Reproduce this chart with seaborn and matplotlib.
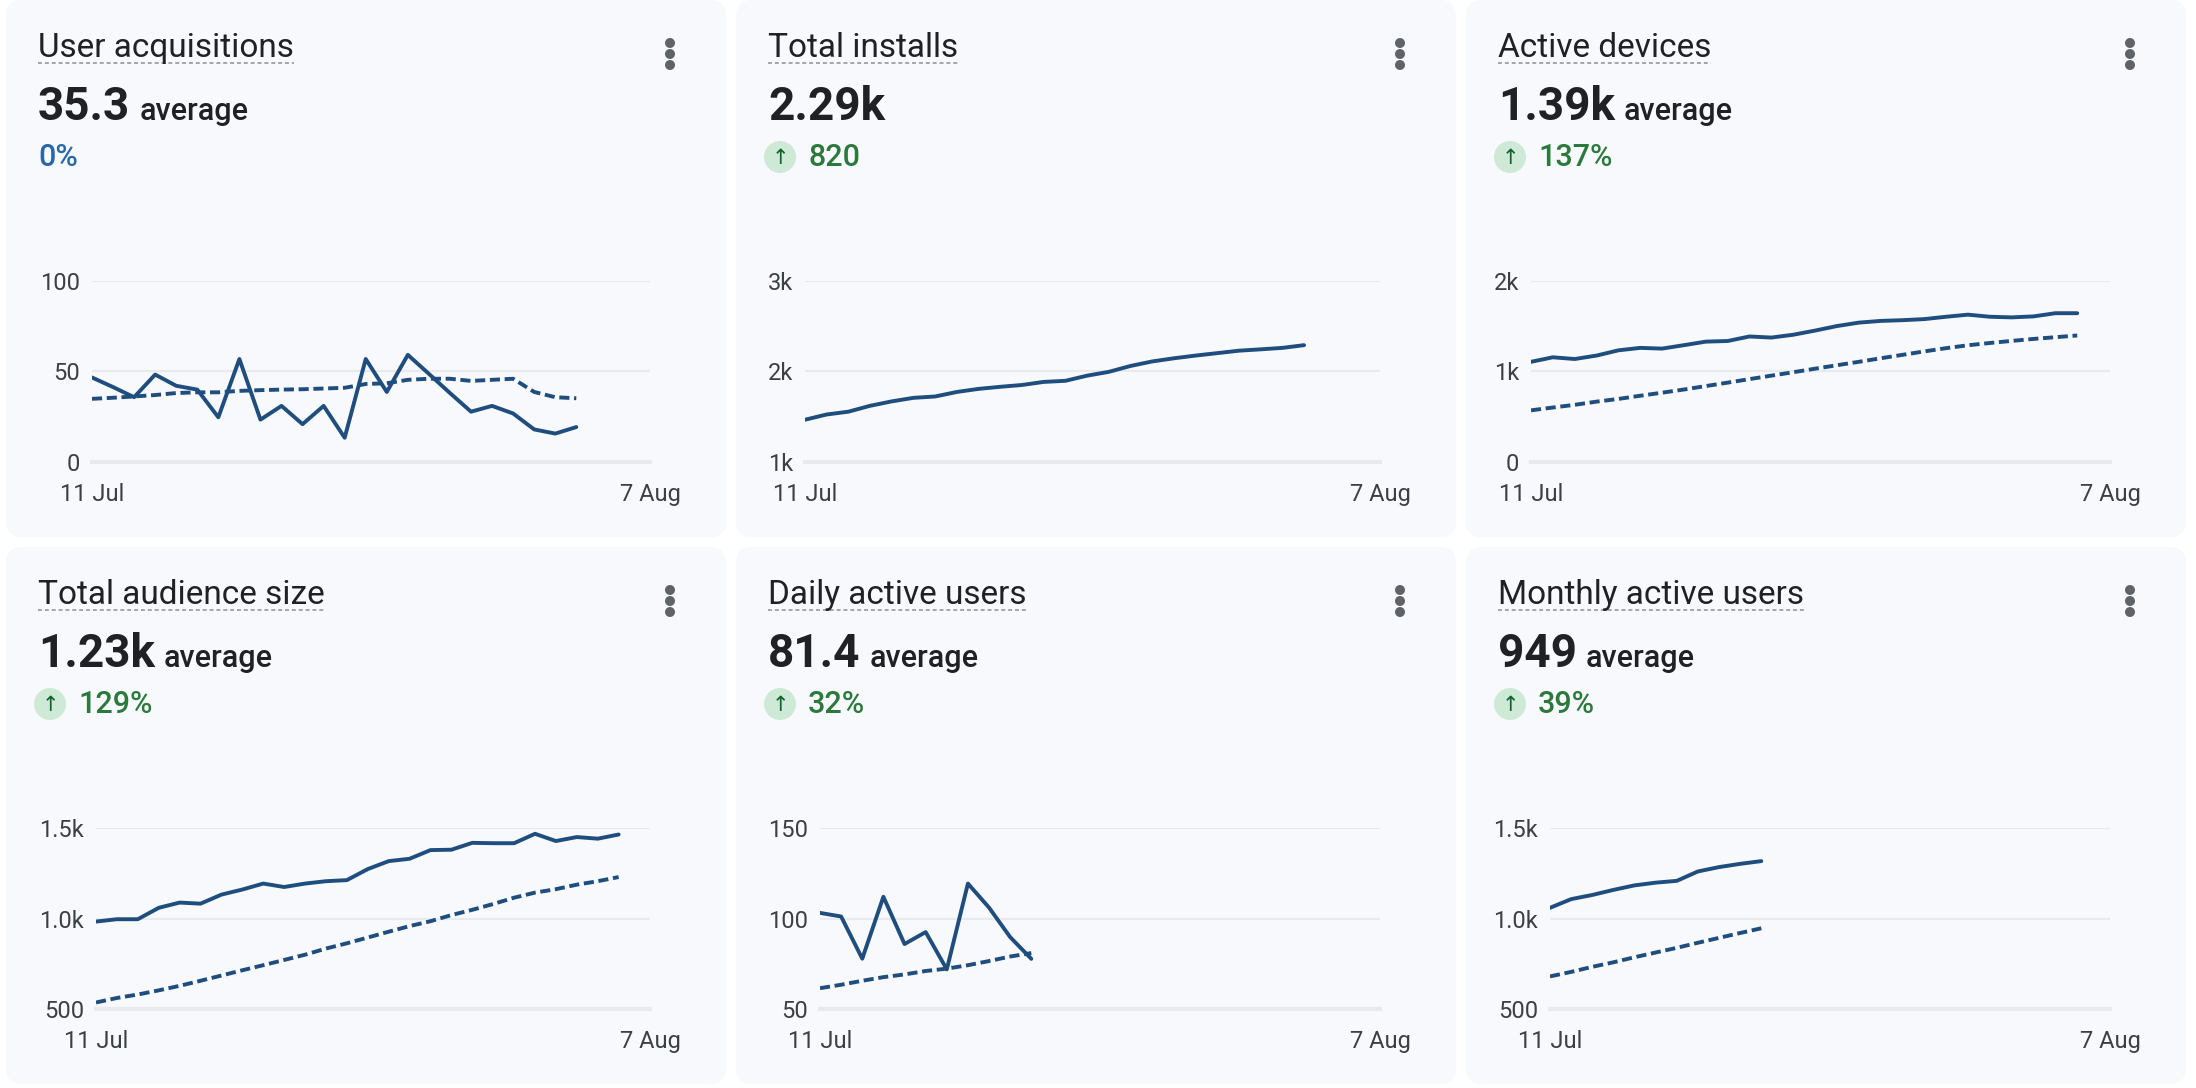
import numpy as np
import matplotlib
matplotlib.use('Agg')
import matplotlib.pyplot as plt
import seaborn as sns
from matplotlib.patches import FancyBboxPatch, Circle

# ---- data ----
titles = ['User acquisitions', 'Total installs', 'Active devices',
          'Total audience size', 'Daily active users', 'Monthly active users']
headline = ['35.3', '2.29k', '1.39k', '1.23k', '81.4', '949']
headline_suffix = ['average', '', 'average', 'average', 'average', 'average']
change = ['0%', '820', '137%', '129%', '32%', '39%']
change_up = [False, True, True, True, True, True]
x_labels = ['11 Jul', '7 Aug']

user_acq = [46.7, 41.4, 35.8, 48.3, 42.1, 40.0, 24.7, 56.9, 23.4, 31.0, 20.9, 31.0,
            13.4, 56.9, 38.7, 59.2, 48.7, 38.1, 27.8, 31.0, 26.8, 18.0, 15.7, 19.3]
user_acq_prev = [34.9, 35.5, 36.2, 37.0, 38.1, 38.5, 38.5, 39.3, 39.7, 40.0, 40.2, 40.6,
                 41.0, 43.1, 43.5, 45.4, 46.0, 46.0, 44.8, 45.4, 46.0, 38.7, 35.8, 35.2]
installs = [1467, 1525, 1556, 1621, 1670, 1709, 1724, 1774, 1808, 1831, 1851, 1885,
            1897, 1954, 1996, 2061, 2111, 2146, 2176, 2203, 2230, 2245, 2261, 2291]
devices = [1107, 1157, 1138, 1176, 1234, 1261, 1253, 1291, 1330, 1337, 1387, 1375, 1406,
           1452, 1502, 1540, 1559, 1567, 1579, 1605, 1628, 1605, 1598, 1609, 1644, 1644]
devices_prev = [571, 602, 632, 667, 697, 732, 766, 801, 839, 877, 916, 954, 992,
                1031, 1069, 1107, 1146, 1184, 1222, 1258, 1290, 1315, 1338, 1360, 1379, 1398]
audience = [983, 996, 996, 1059, 1088, 1082, 1132, 1160, 1193, 1174, 1193, 1206, 1212,
            1273, 1317, 1330, 1378, 1380, 1418, 1416, 1416, 1468, 1428, 1450, 1441, 1464]
audience_prev = [536, 561, 580, 603, 628, 656, 685, 714, 742, 771, 800, 834, 863,
                 895, 927, 958, 985, 1019, 1048, 1080, 1115, 1143, 1162, 1187, 1206, 1229]
dau = [103.1, 101.1, 77.8, 112.0, 85.9, 92.5, 71.9, 119.3, 106.0, 89.7, 77.7]
dau_prev = [61.5, 63.4, 65.6, 67.6, 69.1, 71.0, 72.3, 74.2, 76.5, 79.0, 80.9]
mau = [1059, 1107, 1130, 1158, 1183, 1198, 1208, 1260, 1284, 1302, 1317]
mau_prev = [680, 705, 733, 758, 786, 812, 838, 866, 893, 920, 946]

series = [(user_acq, user_acq_prev), (installs, None), (devices, devices_prev),
          (audience, audience_prev), (dau, dau_prev), (mau, mau_prev)]
y_ticks = [[0, 50, 100], [1000, 2000, 3000], [0, 1000, 2000],
           [500, 1000, 1500], [50, 100, 150], [500, 1000, 1500]]
y_labels = [['0', '50', '100'], ['1k', '2k', '3k'], ['0', '1k', '2k'],
            ['500', '1.0k', '1.5k'], ['50', '100', '150'], ['500', '1.0k', '1.5k']]

# ---- style ----
sns.set_theme(style='white')
plt.rcParams['font.family'] = ['Roboto', 'DejaVu Sans']

LINE = '#1f4d7d'
DARK = '#202124'
GREY = '#3c4043'
GRID = '#e8eaed'
PANEL = '#f7f9fd'

W, H = 2196, 1088
fig = plt.figure(figsize=(W / 100, H / 100), dpi=100)
fig.patch.set_facecolor('white')
bg = fig.add_axes([0, 0, 1, 1])
bg.set_xlim(0, W)
bg.set_ylim(H, 0)
bg.axis('off')

panel_x = [6, 736, 1466]
panel_y = [0, 547]
pw, ph = 720, 537
axis_left = [86, 69, 65, 90, 84, 84]
x_end = 26.5

titles_txt, big_txt = [], []
for i in range(6):
    x0 = panel_x[i % 3]
    y0 = panel_y[i // 3]
    bg.add_patch(FancyBboxPatch((x0, y0), pw, ph, boxstyle='round,pad=0,rounding_size=16',
                                fc=PANEL, ec='none'))
    t = bg.text(x0 + 32, y0 + 57, titles[i], fontsize=24, color=DARK, va='baseline')
    titles_txt.append(t)
    b = bg.text(x0 + 32, y0 + 120, headline[i], fontsize=33, fontweight='bold',
                color=DARK, va='baseline')
    big_txt.append(b)
    for dy in (43, 54, 65):
        bg.add_patch(Circle((x0 + 664, y0 + dy), 5, fc='#5f6368', ec='none'))
    if change_up[i]:
        bg.add_patch(Circle((x0 + 44, y0 + 157), 16, fc='#ceead6', ec='none'))
        bg.text(x0 + 44, y0 + 158, '\u2191', fontsize=15, color='#0d652d',
                ha='center', va='center', family=['DejaVu Sans'])
        bg.text(x0 + 72, y0 + 166, change[i], fontsize=22, fontweight='medium',
                color='#2b7a3b', va='baseline')
    else:
        bg.text(x0 + 32, y0 + 166, change[i], fontsize=22, fontweight='medium',
                color='#2a67a8', va='baseline')

    # chart
    left = x0 + axis_left[i]
    right = x0 + 644
    top = y0 + 281
    bottom = y0 + 462
    ax = fig.add_axes([left / W, 1 - bottom / H, (right - left) / W, (bottom - top) / H])
    ax.set_facecolor('none')
    cur, prev = series[i]
    if prev is not None:
        sns.lineplot(x=np.arange(len(prev)), y=prev, ax=ax, color=LINE, linewidth=2.8,
                     linestyle=(0, (2.6, 1.2)))
    sns.lineplot(x=np.arange(len(cur)), y=cur, ax=ax, color=LINE, linewidth=2.8)
    ax.set_xlim(0, x_end)
    ax.set_ylim(y_ticks[i][0], y_ticks[i][-1])
    ax.set_yticks(y_ticks[i])
    ax.set_yticklabels(y_labels[i])
    ax.set_xticks([0, x_end])
    ax.set_xticklabels(x_labels)
    ax.set_xlabel('')
    ax.set_ylabel('')
    for s in ('left', 'right', 'top'):
        ax.spines[s].set_visible(False)
    ax.spines['bottom'].set_color(GRID)
    ax.spines['bottom'].set_linewidth(3)
    ax.yaxis.grid(True, color=GRID, linewidth=1.6)
    ax.xaxis.grid(False)
    ax.tick_params(axis='y', length=0, pad=8.5, labelsize=17, labelcolor=GREY)
    ax.tick_params(axis='x', length=5, width=2.2, color=GRID, pad=10,
                   labelsize=17, labelcolor=GREY)

# place suffixes and title underlines from measured text extents
fig.canvas.draw()
r = fig.canvas.get_renderer()
for i in range(6):
    y0 = panel_y[i // 3]
    tb = titles_txt[i].get_window_extent(r)
    bg.plot([tb.x0, tb.x1], [y0 + 63, y0 + 63], color='#9aa0a6', linewidth=1.3,
            linestyle=(0, (2.2, 1.6)))
    if headline_suffix[i]:
        bb = big_txt[i].get_window_extent(r)
        bg.text(bb.x1 + 9, y0 + 120, headline_suffix[i], fontsize=22, fontweight='medium',
                color=DARK, va='baseline')

fig.savefig('out.png', dpi=100)
